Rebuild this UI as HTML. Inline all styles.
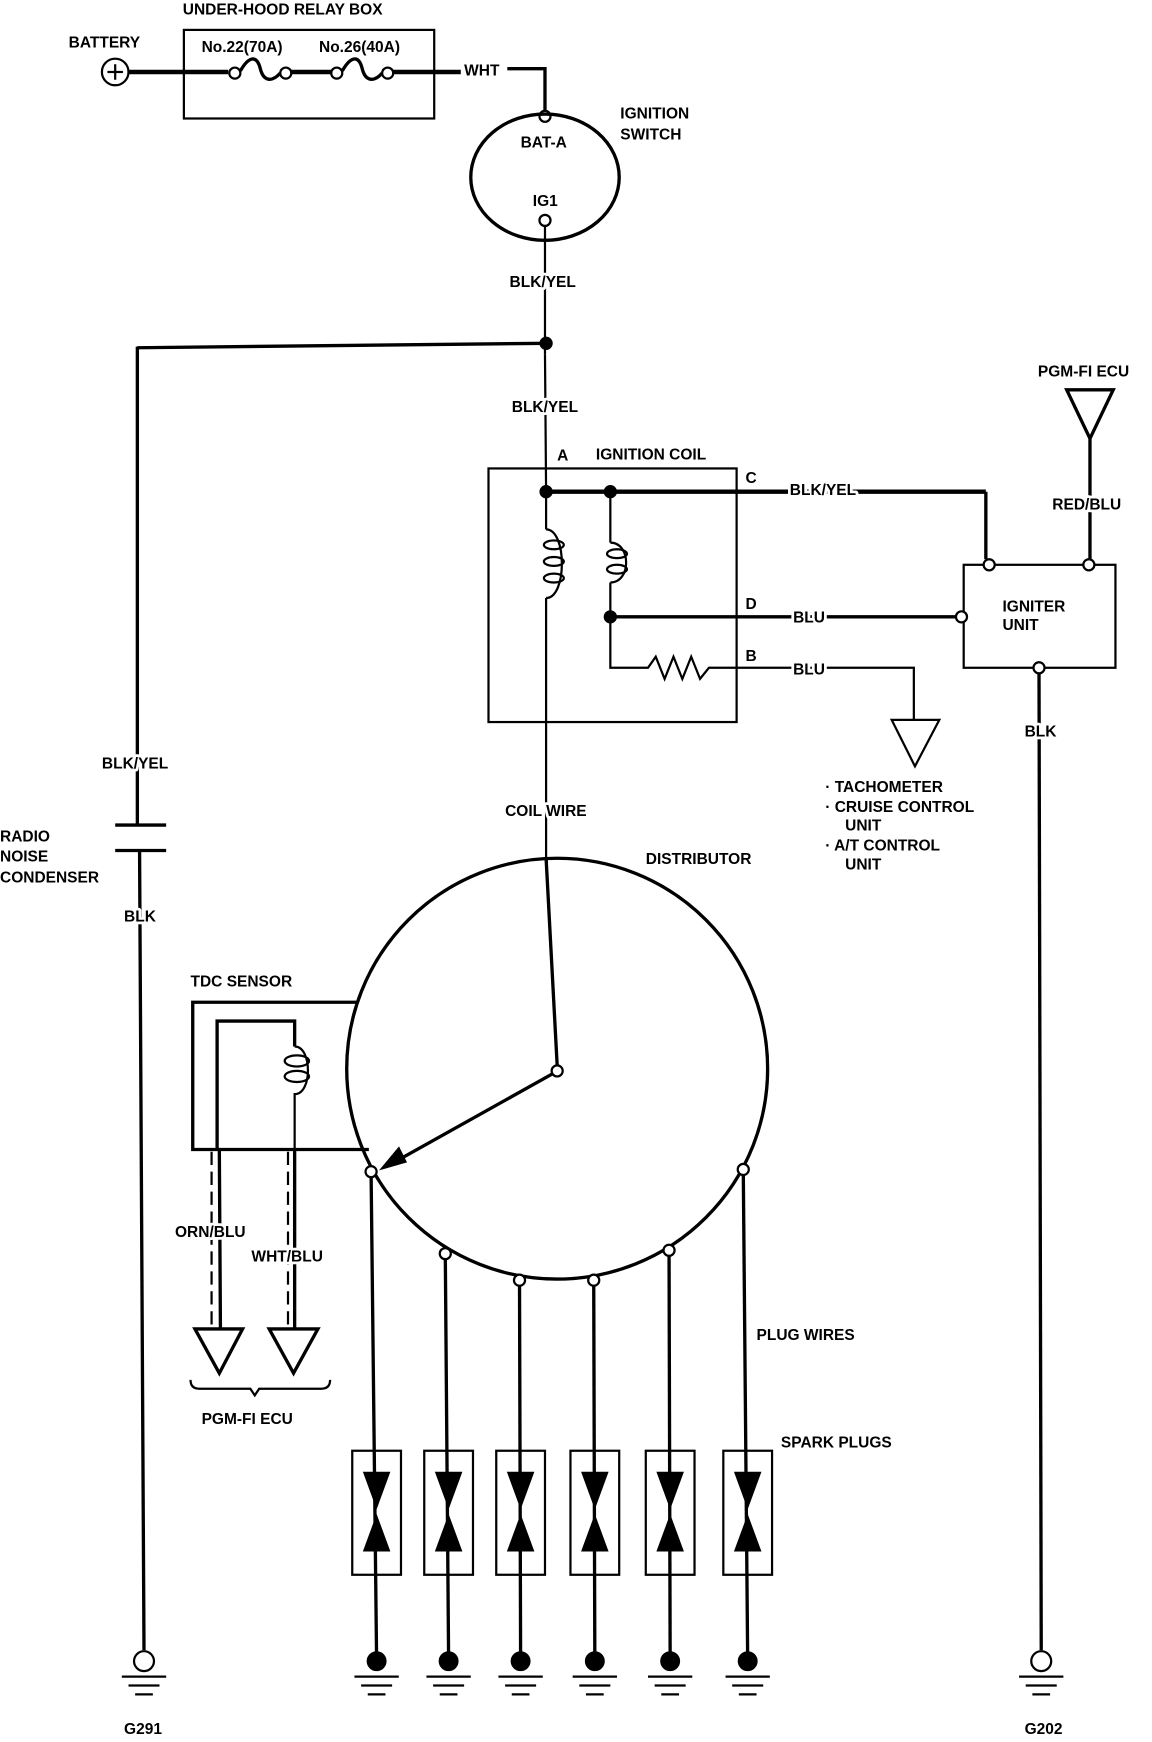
<!DOCTYPE html>
<html><head><style>
html,body{margin:0;padding:0;background:#fff}
svg{display:block}
text{font-family:"Liberation Sans",sans-serif;font-size:14px;font-weight:bold;fill:#000}
text.w{stroke:#fff;stroke-width:5px;paint-order:stroke;stroke-linejoin:round}
</style></head><body>
<svg width="1152" height="1742" viewBox="0 0 1040 1573" preserveAspectRatio="none" xmlns="http://www.w3.org/2000/svg">
<g fill="none" stroke="#000" stroke-width="2">
<rect x="166" y="27" width="226" height="80"/>
<circle cx="104" cy="65" r="12"/>
<line x1="97" y1="65" x2="111" y2="65"/><line x1="104" y1="58" x2="104" y2="72"/>
<line x1="116" y1="65" x2="206" y2="65" stroke-width="4"/>
<line x1="262" y1="65" x2="300" y2="65" stroke-width="4"/>
<line x1="354" y1="65" x2="416" y2="65" stroke-width="4"/>
<circle cx="212" cy="66" r="5"/><circle cx="258" cy="66" r="5"/>
<circle cx="304" cy="66" r="5"/><circle cx="350" cy="66" r="5"/>
<path d="M217,64 C225,50 232,50 235,62 C238,74 246,74 253,66" stroke-width="3"/>
<path d="M309,64 C317,50 324,50 327,62 C330,74 338,74 345,66" stroke-width="3"/>
<polyline points="458,62 492,62 492,100" stroke-width="3"/>
<ellipse cx="492" cy="160" rx="67" ry="57" stroke-width="3"/>
<circle cx="492" cy="105" r="5"/><circle cx="492" cy="199" r="5"/>
<line x1="492" y1="204" x2="492" y2="320"/>
<line x1="492" y1="320" x2="493" y2="444" />
<line x1="124" y1="314" x2="493" y2="310" stroke-width="3"/>
<line x1="124" y1="313" x2="124" y2="745" stroke-width="3"/>
<line x1="104" y1="745" x2="150" y2="745" stroke-width="3"/>
<line x1="104" y1="768" x2="150" y2="768" stroke-width="3"/>
<line x1="126" y1="768" x2="130" y2="1490" stroke-width="3"/>
<rect x="441" y="423" width="224" height="229"/>
<line x1="493" y1="444" x2="890" y2="444" stroke-width="4"/>
<polyline points="890,444 890,505" stroke-width="3"/>
<path d="M493,444 L493,478 M493,540 L493,775"/>
<path d="M493,478 C512,478 512,540 493,540" />
<ellipse cx="500" cy="492" rx="9" ry="4"/><ellipse cx="500" cy="507" rx="9" ry="4"/><ellipse cx="500" cy="522" rx="9" ry="4"/>
<path d="M551,444 L551,490 M551,526 L551,603 L585,603 L592,593 L600,613 L608,593 L616,613 L624,593 L632,613 L640,603 L650,603"/>
<ellipse cx="557" cy="500" rx="9" ry="4"/><ellipse cx="557" cy="514" rx="9" ry="4"/>
<path d="M551,490 C570,490 570,526 551,526"/>
<line x1="551" y1="557" x2="863" y2="557" stroke-width="3"/>
<polyline points="650,603 825,603 825,650" stroke-width="2"/>
<polygon points="805,650 848,650 826,692" stroke-width="2"/>
<rect x="870" y="510" width="137" height="93"/>
<circle cx="893" cy="510" r="5" fill="#fff"/><circle cx="983" cy="510" r="5" fill="#fff"/>
<circle cx="868" cy="557" r="5" fill="#fff"/><circle cx="938" cy="603" r="5" fill="#fff"/>
<polygon points="963,352 1005,352 984,396" stroke-width="3"/>
<line x1="984" y1="396" x2="984" y2="505" stroke-width="3"/>
<line x1="938" y1="608" x2="940" y2="1490" stroke-width="3"/>
<circle cx="503" cy="965" r="190" stroke-width="3"/>
<line x1="493" y1="775" x2="503" y2="962" stroke-width="3"/>
<line x1="500" y1="969" x2="355" y2="1050" stroke-width="3"/>
<polygon points="345,1055 360,1037 366,1049" fill="#000"/>
<circle cx="503" cy="967" r="5" fill="#fff"/>
<polyline points="322,905 174,905 174,1038 333,1038" stroke-width="3"/>
<polyline points="196,1038 196,922 266,922 266,945" stroke-width="3"/>
<path d="M266,945 C282,945 282,988 266,988 L266,1038" stroke-width="2"/>
<ellipse cx="268" cy="958" rx="11" ry="5"/><ellipse cx="268" cy="972" rx="11" ry="5"/>
<line x1="198" y1="1038" x2="199" y2="1200" stroke-width="3"/>
<line x1="266" y1="1038" x2="266" y2="1200" stroke-width="3"/>
<line x1="191" y1="1040" x2="191" y2="1200" stroke-dasharray="12,6"/>
<line x1="260" y1="1040" x2="260" y2="1200" stroke-dasharray="12,6"/>
<polygon points="176,1200 219,1200 198,1240" stroke-width="3"/>
<polygon points="243,1200 287,1200 265,1240" stroke-width="3"/>
<path d="M172,1246 Q172,1254 180,1254 L226,1254 L230,1260 L234,1254 L290,1254 Q298,1254 298,1246"/>
<g stroke-width="3">
<line x1="335" y1="1058" x2="340" y2="1500"/>
<line x1="402" y1="1132" x2="405" y2="1500"/>
<line x1="469" y1="1156" x2="470" y2="1500"/>
<line x1="536" y1="1156" x2="537" y2="1500"/>
<line x1="604" y1="1129" x2="605" y2="1500"/>
<line x1="671" y1="1056" x2="675" y2="1500"/>
</g>
<g fill="#fff">
<circle cx="335" cy="1058" r="5"/><circle cx="402" cy="1132" r="5"/><circle cx="469" cy="1156" r="5"/>
<circle cx="536" cy="1156" r="5"/><circle cx="604" cy="1129" r="5"/><circle cx="671" cy="1056" r="5"/>
</g>
</g>
<g stroke="#000" stroke-width="2" fill="none">
<g transform="translate(340,0)"><rect x="-22" y="1310" width="44" height="112"/><polygon points="-11,1330 11,1330 0,1360" fill="#000"/><polygon points="-11,1400 11,1400 0,1370" fill="#000"/><circle cx="0" cy="1500" r="8" fill="#000"/><path d="M-20,1514H20M-14,1522H14M-8,1530H8"/></g>
<g transform="translate(405,0)"><rect x="-22" y="1310" width="44" height="112"/><polygon points="-11,1330 11,1330 0,1360" fill="#000"/><polygon points="-11,1400 11,1400 0,1370" fill="#000"/><circle cx="0" cy="1500" r="8" fill="#000"/><path d="M-20,1514H20M-14,1522H14M-8,1530H8"/></g>
<g transform="translate(470,0)"><rect x="-22" y="1310" width="44" height="112"/><polygon points="-11,1330 11,1330 0,1360" fill="#000"/><polygon points="-11,1400 11,1400 0,1370" fill="#000"/><circle cx="0" cy="1500" r="8" fill="#000"/><path d="M-20,1514H20M-14,1522H14M-8,1530H8"/></g>
<g transform="translate(537,0)"><rect x="-22" y="1310" width="44" height="112"/><polygon points="-11,1330 11,1330 0,1360" fill="#000"/><polygon points="-11,1400 11,1400 0,1370" fill="#000"/><circle cx="0" cy="1500" r="8" fill="#000"/><path d="M-20,1514H20M-14,1522H14M-8,1530H8"/></g>
<g transform="translate(605,0)"><rect x="-22" y="1310" width="44" height="112"/><polygon points="-11,1330 11,1330 0,1360" fill="#000"/><polygon points="-11,1400 11,1400 0,1370" fill="#000"/><circle cx="0" cy="1500" r="8" fill="#000"/><path d="M-20,1514H20M-14,1522H14M-8,1530H8"/></g>
<g transform="translate(675,0)"><rect x="-22" y="1310" width="44" height="112"/><polygon points="-11,1330 11,1330 0,1360" fill="#000"/><polygon points="-11,1400 11,1400 0,1370" fill="#000"/><circle cx="0" cy="1500" r="8" fill="#000"/><path d="M-20,1514H20M-14,1522H14M-8,1530H8"/></g>
<g transform="translate(130,0)"><circle cx="0" cy="1500" r="9" fill="#fff"/><path d="M-20,1514H20M-14,1522H14M-8,1530H8"/></g>
<g transform="translate(940,0)"><circle cx="0" cy="1500" r="9" fill="#fff"/><path d="M-20,1514H20M-14,1522H14M-8,1530H8"/></g>
<circle cx="493" cy="310" r="5" fill="#000"/>
<circle cx="493" cy="444" r="5" fill="#000"/>
<circle cx="551" cy="444" r="5" fill="#000"/>
<circle cx="551" cy="557" r="5" fill="#000"/>
</g>
<text x="165" y="13">UNDER-HOOD RELAY BOX</text>
<text x="62" y="43">BATTERY</text>
<text x="182" y="47">No.22(70A)</text>
<text x="288" y="47">No.26(40A)</text>
<text class="w" x="419" y="68">WHT</text>
<text x="470" y="133">BAT-A</text>
<text x="481" y="186">IG1</text>
<text x="560" y="107">IGNITION</text>
<text x="560" y="126">SWITCH</text>
<text class="w" x="460" y="259">BLK/YEL</text>
<text class="w" x="462" y="372">BLK/YEL</text>
<text x="503" y="416">A</text>
<text x="538" y="415">IGNITION COIL</text>
<text x="673" y="436">C</text>
<text class="w" x="713" y="447">BLK/YEL</text>
<text x="673" y="550">D</text>
<text class="w" x="716" y="562">BLU</text>
<text x="673" y="597">B</text>
<text class="w" x="716" y="609">BLU</text>
<text x="937" y="340">PGM-FI  ECU</text>
<text class="w" x="950" y="460">RED/BLU</text>
<text x="905" y="552">IGNITER</text>
<text x="905" y="569">UNIT</text>
<text class="w" x="925" y="665">BLK</text>
<text x="745" y="715">·  TACHOMETER</text>
<text x="745" y="733">·  CRUISE CONTROL</text>
<text x="763" y="750">UNIT</text>
<text x="745" y="768">·  A/T CONTROL</text>
<text x="763" y="785">UNIT</text>
<text class="w" x="92" y="694">BLK/YEL</text>
<text x="0" y="760">RADIO</text>
<text x="0" y="778">NOISE</text>
<text x="0" y="797">CONDENSER</text>
<text class="w" x="112" y="832">BLK</text>
<text class="w" x="456" y="737">COIL WIRE</text>
<text x="583" y="780">DISTRIBUTOR</text>
<text x="172" y="891">TDC SENSOR</text>
<text class="w" x="158" y="1117">ORN/BLU</text>
<text class="w" x="227" y="1139">WHT/BLU</text>
<text x="182" y="1286">PGM-FI ECU</text>
<text x="683" y="1210">PLUG WIRES</text>
<text x="705" y="1307">SPARK PLUGS</text>
<text x="112" y="1566">G291</text>
<text x="925" y="1566">G202</text>
</svg>
</body></html>
